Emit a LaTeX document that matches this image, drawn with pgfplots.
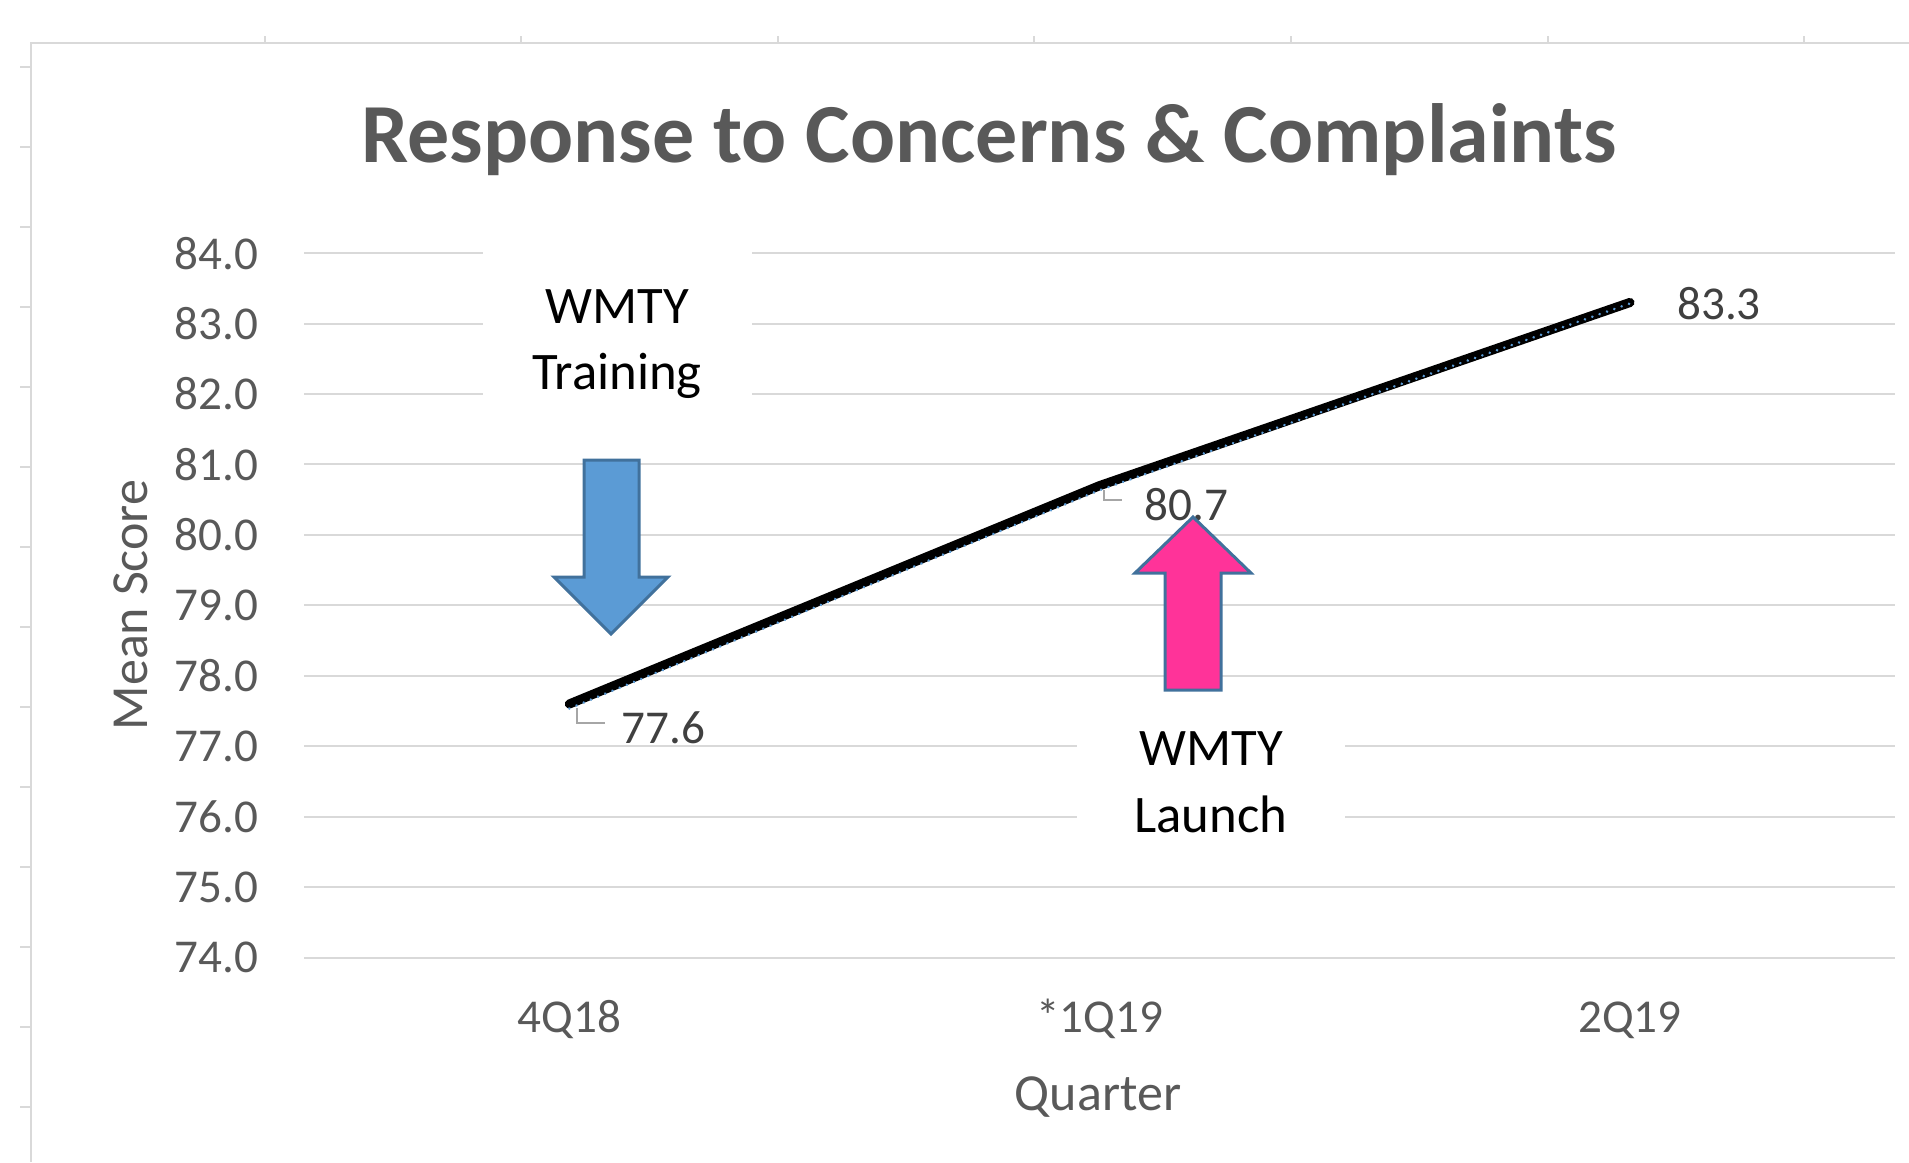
\documentclass[border=0pt]{standalone}
\usepackage{pgfplots}
\pgfplotsset{compat=1.18}
\usepackage{fontspec}
\setmainfont{Carlito}
\definecolor{gridgray}{HTML}{D9D9D9}
\definecolor{txtgray}{HTML}{595959}
\definecolor{lblgray}{HTML}{404040}
\definecolor{arrblue}{HTML}{5B9BD5}
\definecolor{arredge}{HTML}{41719C}
\definecolor{arrpink}{HTML}{FF3399}
\definecolor{trendblue}{HTML}{5B9BD5}
\definecolor{leadergray}{HTML}{A6A6A6}
\begin{document}
\begin{tikzpicture}[x=0.01cm,y=-0.01cm]
\useasboundingbox (0,0) rectangle (1909,1162);
% outer frame with ruler ticks
\draw[gridgray, line width=0.02cm] (31,1162) -- (31,43) -- (1909,43);
\foreach \yy in {67,147,...,1107} \draw[gridgray, line width=0.02cm] (20,\yy) -- (31,\yy);
\foreach \xx in {265,521,778,1034,1291,1548,1804} \draw[gridgray, line width=0.02cm] (\xx,36) -- (\xx,43);

\begin{axis}[
  at={(3.04cm,-9.57cm)}, anchor=south west,
  scale only axis, width=15.90cm, height=7.04cm,
  xmin=-0.5, xmax=2.5, ymin=74, ymax=84,
  xtick={0,1,2}, xticklabels={4Q18,*1Q19,2Q19},
  ytick={74,75,76,77,78,79,80,81,82,83,84},
  yticklabels={74.0,75.0,76.0,77.0,78.0,79.0,80.0,81.0,82.0,83.0,84.0},
  axis line style={draw=none}, major tick length=0pt,
  ymajorgrids, major grid style={gridgray, line width=0.02cm},
  tick label style={font=\fontsize{13.4}{16}\selectfont, text=txtgray, inner sep=0pt},
  xticklabel style={anchor=base, yshift=-0.75cm},
  yticklabel style={anchor=east, xshift=-0.45cm},
  clip=false,
]
\addplot[black, line width=2.6pt, line join=round, line cap=round] coordinates {(0,77.6) (1,80.7) (2,83.3)};
% dotted blue edge along the line
\addplot[trendblue, line width=0.8pt, dash pattern=on 0.01pt off 2.2pt, line cap=round, yshift=-0.045cm] coordinates {(0,77.6) (1,80.7) (2,83.35)};
\node[font=\fontsize{13.4}{16}\selectfont, text=lblgray, xshift=0.94cm, yshift=-0.234cm] at (axis cs:0,77.6) {77.6};
\node[font=\fontsize{13.4}{16}\selectfont, text=lblgray, xshift=0.87cm, yshift=-0.19cm] at (axis cs:1,80.7) {80.7};
\node[font=\fontsize{13.4}{16}\selectfont, text=lblgray, xshift=0.89cm, yshift=-0.01cm] at (axis cs:2,83.3) {83.3};
\end{axis}

% leader lines
\draw[leadergray, line width=0.4pt] (577,708) -- (577,723) -- (605,723);
\draw[leadergray, line width=0.4pt] (1104,490) -- (1104,500) -- (1122,500);

% text boxes
\fill[white] (483,240) rectangle (752,405);
\node[anchor=base, font=\fontsize{15}{18}\selectfont] at (617,323) {WMTY};
\node[anchor=base, font=\fontsize{15}{18}\selectfont] at (617,389) {Training};
\fill[white] (1077,712) rectangle (1345,852);
\node[anchor=base, font=\fontsize{15}{18}\selectfont] at (1211,765) {WMTY};
\node[anchor=base, font=\fontsize{15}{18}\selectfont] at (1211,832) {Launch};

% arrows
\filldraw[fill=arrblue, draw=arredge, line width=0.03cm, line join=miter]
  (584,460) -- (639,460) -- (639,577) -- (668,577) -- (611,634) -- (554,577) -- (584,577) -- cycle;
\filldraw[fill=arrpink, draw=arredge, line width=0.03cm, line join=miter]
  (1165,690) -- (1221,690) -- (1221,573) -- (1251,573) -- (1193,517) -- (1135,573) -- (1165,573) -- cycle;

% title and axis titles
\node[anchor=base, font=\fontsize{23.9}{28}\selectfont\bfseries, text=txtgray] at (989,162) {Response to Concerns \& Complaints};
\node[rotate=90, anchor=base, font=\fontsize{14.8}{18}\selectfont, text=txtgray] at (147,605) {Mean Score};
\node[anchor=base, font=\fontsize{14.8}{18}\selectfont, text=txtgray] at (1098,1110) {Quarter};
\end{tikzpicture}
\end{document}
